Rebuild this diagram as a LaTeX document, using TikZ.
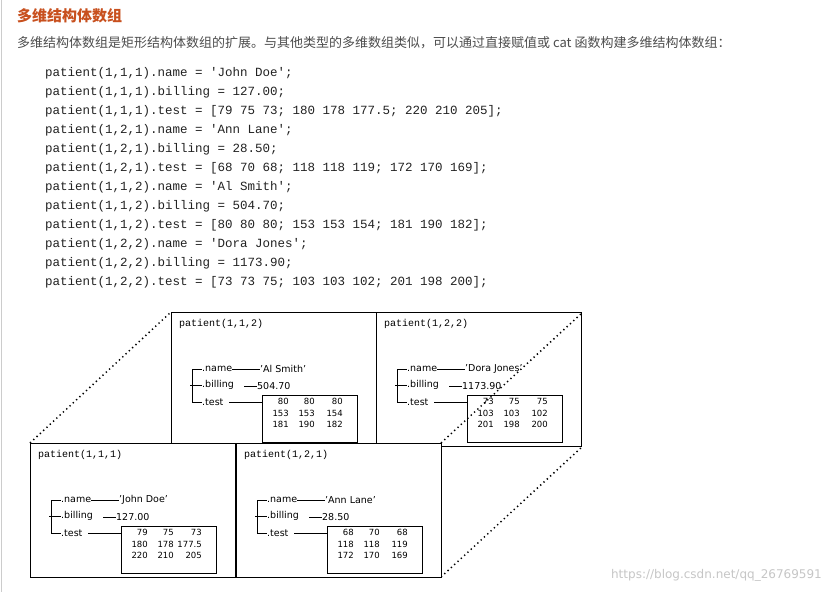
\documentclass[tikz,border=0pt]{standalone}
\usepackage{fontspec}
\setmainfont{DejaVu Sans}
\newfontfamily\cjk{Noto Sans CJK SC}
\newfontfamily\mono{Liberation Mono}
\definecolor{ttl}{HTML}{C8501E}
\definecolor{txt}{HTML}{4D4D4D}
\definecolor{code}{HTML}{222222}
\tikzset{
  codeline/.style={anchor=west,inner sep=0,font=\mono\fontsize{12.5}{13}\selectfont,text=code},
  boxtitle/.style={anchor=west,inner sep=0,font=\mono\fontsize{10}{11}\selectfont},
  fld/.style={anchor=west,inner sep=0,font=\fontsize{9.5}{10}\selectfont},
  num/.style={anchor=east,inner sep=0,font=\fontsize{8.5}{9}\selectfont},
  pbox/.style={draw,line width=0.9pt,fill=white},
  conn/.style={line width=0.7pt},
  dots/.style={line width=1.5pt,dash pattern=on 1.3pt off 3.2pt}
}
\newcommand{\pbx}[9]{% x y title name billing r1 r2 r3 nm
  \draw[pbox] (#1,#2) rectangle (#1+205,#2+134);
  \node[boxtitle] (#9t) at (#1+8,#2+12) {#3};
  \node[fld] (#9n) at (#1+31,#2+57) {.name};
  \node[fld] (#9b) at (#1+31,#2+73) {.billing};
  \node[fld] (#9s) at (#1+31,#2+90) {.test};
  \draw[conn] (#1+21,#2+57) -- (#1+21,#2+90);
  \draw[conn] (#1+21,#2+57) -- (#9n.west) (#1+19,#2+73) -- (#9b.west) (#1+21,#2+90) -- (#9s.west);
  \node[fld] (#9nv) at (#1+89,#2+57) {'#4'};
  \node[fld] (#9bv) at (#1+86,#2+74) {#5};
  \draw[conn] (#1+61,#2+57) -- (#9nv.west);
  \draw[conn] (#1+73,#2+74) -- (#9bv.west);
  \node[draw,conn,minimum width=95pt,minimum height=47pt,anchor=north west,inner sep=0] (#9m) at (#1+91,#2+83) {};
  \draw[conn] (#1+58,#2+90) -- (#9m.west|-#9s);
  \foreach \r [count=\i] in {#6,#7,#8}{
    \foreach \v [count=\j] in \r {
      \pgfmathsetmacro\xx{#1+92+\j*26+(\j==3)*2}
      \pgfmathsetmacro\yy{#2+78+\i*11.5}
      \node[num] at (\xx,\yy) {\v};
    }
  }
}
\begin{document}
\begin{tikzpicture}[x=1pt,y=-1pt]
\useasboundingbox[fill=white] (0,0) rectangle (831,592);
\draw[gray!40,line width=1pt] (1,0) -- (1,592);
\node[anchor=west,inner sep=0,font=\cjk\bfseries\fontsize{15}{16}\selectfont,text=ttl] (title) at (17,16) {多维结构体数组};
\node[anchor=west,inner sep=0,font=\cjk\fontsize{13}{14}\selectfont,text=txt] (para) at (17,43) {多维结构体数组是矩形结构体数组的扩展。与其他类型的多维数组类似，可以通过直接赋值或 cat 函数构建多维结构体数组：};
\foreach \t [count=\i] in {
 {patient(1,1,1).name = 'John Doe';},
 {patient(1,1,1).billing = 127.00;},
 {patient(1,1,1).test = [79 75 73; 180 178 177.5; 220 210 205];},
 {patient(1,2,1).name = 'Ann Lane';},
 {patient(1,2,1).billing = 28.50;},
 {patient(1,2,1).test = [68 70 68; 118 118 119; 172 170 169];},
 {patient(1,1,2).name = 'Al Smith';},
 {patient(1,1,2).billing = 504.70;},
 {patient(1,1,2).test = [80 80 80; 153 153 154; 181 190 182];},
 {patient(1,2,2).name = 'Dora Jones';},
 {patient(1,2,2).billing = 1173.90;},
 {patient(1,2,2).test = [73 73 75; 103 103 102; 201 198 200];}}
 \node[codeline] (c\i) at (45,54+\i*19) {\t};
\pbx{171}{312}{patient(1,1,2)}{Al Smith}{504.70}{{80,80,80}}{{153,153,154}}{{181,190,182}}{bl}
\pbx{376}{312}{patient(1,2,2)}{Dora Jones}{1173.90}{{73,75,75}}{{103,103,102}}{{201,198,200}}{br}
\draw[dots] (441,443) -- (583,312);
\draw[dots] (441,577) -- (583,446);
\draw[dots] (30,443) -- (171,312);
\pbx{30}{443}{patient(1,1,1)}{John Doe}{127.00}{{79,75,73}}{{180,178,177.5}}{{220,210,205}}{fl}
\pbx{236}{443}{patient(1,2,1)}{Ann Lane}{28.50}{{68,70,68}}{{118,118,119}}{{172,170,169}}{fr}
\node[anchor=east,inner sep=0,font=\fontsize{12}{13}\selectfont,text=gray!45] (wm) at (822,575) {https://blog.csdn.net/qq\_26769591};
\end{tikzpicture}
\end{document}
